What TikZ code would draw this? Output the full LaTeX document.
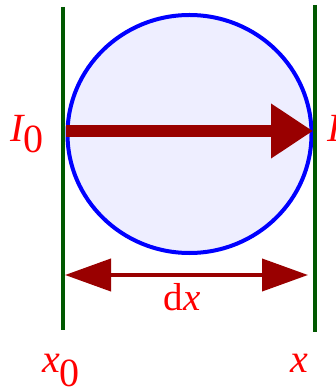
\documentclass[tikz,border=0pt]{standalone}
\usepackage{fontspec}
\setmainfont{Liberation Serif}
\usetikzlibrary{arrows.meta,shapes.geometric}
\definecolor{wallgreen}{RGB}{0,88,0}
\definecolor{arrowred}{RGB}{153,0,0}
\definecolor{lav}{RGB}{238,238,255}
\definecolor{labred}{RGB}{255,0,0}
\tikzset{
  wall/.style={draw=wallgreen, line width=4pt},
  bigarrow/.style={draw=arrowred, line width=12pt, -{Triangle[length=42pt,width=52pt]}},
  dimarrow/.style={draw=arrowred, line width=4pt, {Triangle[length=46pt,width=32pt]}-{Triangle[length=46pt,width=32pt]}},
  biglab/.style={text=labred, inner sep=0pt, font=\fontsize{40}{40}\selectfont},
  smalllab/.style={text=labred, inner sep=0pt, font=\fontsize{39}{39}\selectfont},
}
\begin{document}
\begin{tikzpicture}[x=1pt,y=-1pt]
\useasboundingbox (0,0) rectangle (335,387);
% walls
\coordinate (w0t) at (63,7);
\coordinate (w0b) at (63,330);
\coordinate (w1t) at (315,5);
\coordinate (w1b) at (315,332);
% circle
\node[draw=blue, line width=4pt, fill=lav, ellipse, minimum width=244pt, minimum height=238pt, inner sep=0pt] (c) at (189.5,134) {};
\draw[wall] (w0t) -- (w0b);
\draw[wall] (w1t) -- (w1b);
% main arrow
\coordinate (a0) at (66,131);
\coordinate (a1) at (313,131);
\draw[bigarrow] (a0) -- (a1);
% dimension arrow
\coordinate (d0) at (65,275);
\coordinate (d1) at (308,275);
\draw[dimarrow] (d0) -- (d1);
% labels
\node[biglab, anchor=base west] (i0) at (10,142) {\itshape I\raisebox{-11pt}{\upshape 0}};
\node[biglab, anchor=base west] (i1) at (327,142) {\itshape I};
\node[smalllab, anchor=base] (dx) at (182,310) {d\itshape x};
\node[biglab, anchor=base west] (x0) at (42,372) {\itshape x\raisebox{-14pt}{\upshape 0}};
\node[biglab, anchor=base west] (x1) at (290,372) {\itshape x};
\end{tikzpicture}
\end{document}
